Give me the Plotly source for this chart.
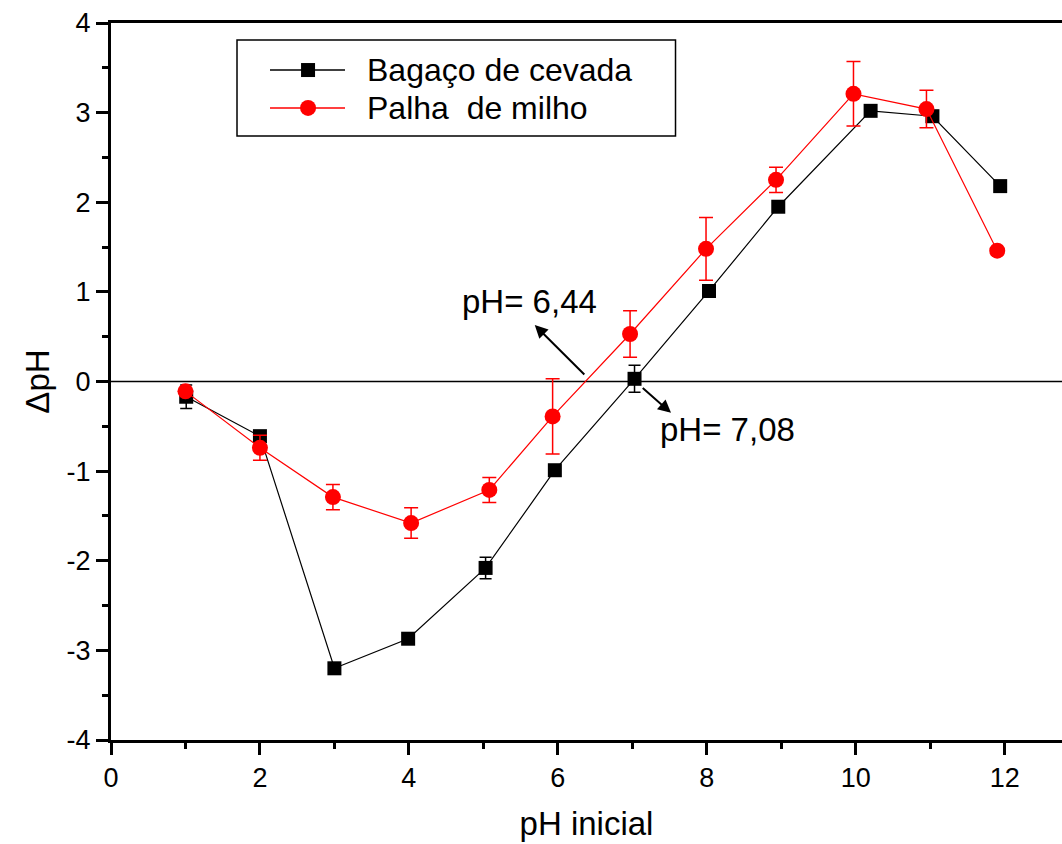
import plotly.graph_objects as go

# Bagaço de cevada (black squares)
x_bagaco = [1.01, 2.0, 3.0, 3.99, 5.03, 5.96, 7.03, 8.03, 8.96, 10.2, 11.03, 11.94]
y_bagaco = [-0.17, -0.61, -3.20, -2.87, -2.08, -0.99, 0.03, 1.01, 1.95, 3.02, 2.96, 2.18]
err_bagaco = [0.13, 0.04, 0.0, 0.0, 0.12, 0.0, 0.15, 0.0, 0.0, 0.0, 0.02, 0.0]

# Palha de milho (red circles)
x_palha = [1.0, 2.0, 2.98, 4.03, 5.08, 5.93, 6.97, 7.99, 8.93, 9.97, 10.95, 11.9]
y_palha = [-0.11, -0.74, -1.29, -1.58, -1.21, -0.39, 0.53, 1.48, 2.25, 3.21, 3.04, 1.46]
err_palha = [0.0, 0.14, 0.14, 0.17, 0.14, 0.42, 0.26, 0.35, 0.14, 0.36, 0.21, 0.0]

series_names = ["Bagaço de cevada", "Palha  de milho"]
series_colors = ["black", "#ff0000"]

x_ticks = [0, 2, 4, 6, 8, 10, 12]
y_ticks = [-4, -3, -2, -1, 0, 1, 2, 3, 4]

FONT = "Liberation Sans, Arial, sans-serif"

fig = go.Figure()

fig.add_trace(go.Scatter(
    x=x_bagaco, y=y_bagaco, mode="lines+markers", name=series_names[0],
    line=dict(color=series_colors[0], width=1.2),
    marker=dict(symbol="square", size=14, color=series_colors[0]),
    error_y=dict(type="data", array=err_bagaco, color=series_colors[0], thickness=1.5, width=6),
))
fig.add_trace(go.Scatter(
    x=x_palha, y=y_palha, mode="lines+markers", name=series_names[1],
    line=dict(color=series_colors[1], width=1.2),
    marker=dict(symbol="circle", size=16, color=series_colors[1]),
    error_y=dict(type="data", array=err_palha, color=series_colors[1], thickness=1.5, width=7),
))

# horizontal zero line
fig.add_shape(type="line", xref="x", yref="y", x0=0, x1=12.77, y0=0, y1=0,
              line=dict(color="black", width=1.5), layer="below")

# arrows
fig.add_annotation(x=5.69, y=0.63, ax=6.376, ay=0.061, xref="x", yref="y",
                   axref="x", ayref="y", text="", showarrow=True,
                   arrowhead=2, arrowsize=1.3, arrowwidth=2, arrowcolor="black")
fig.add_annotation(x=7.52, y=-0.35, ax=7.12, ay=-0.058, xref="x", yref="y",
                   axref="x", ayref="y", text="", showarrow=True,
                   arrowhead=2, arrowsize=1.3, arrowwidth=2, arrowcolor="black")
fig.add_annotation(x=5.62, y=0.89, xref="x", yref="y", text="pH= 6,44",
                   showarrow=False, font=dict(family=FONT, size=33, color="black"))
fig.add_annotation(x=8.28, y=-0.53, xref="x", yref="y", text="pH= 7,08",
                   showarrow=False, font=dict(family=FONT, size=33, color="black"))

# legend drawn in paper coordinates
fig.add_shape(type="rect", xref="paper", yref="paper", x0=0.1325, x1=0.5936,
              y0=0.8424, y1=0.9763, line=dict(color="black", width=1.5),
              fillcolor="white", layer="above")
legend_rows = [0.9344, 0.8815]
for i, (name, color) in enumerate(zip(series_names, series_colors)):
    yr = legend_rows[i]
    fig.add_shape(type="line", xref="paper", yref="paper", x0=0.1672, x1=0.2461,
                  y0=yr, y1=yr, line=dict(color=color, width=1.5), layer="above")
    if i == 0:
        fig.add_shape(type="rect", xref="paper", yref="paper", xsizemode="pixel",
                      ysizemode="pixel", xanchor=0.2072, yanchor=yr,
                      x0=-7, x1=7, y0=-7, y1=7, fillcolor=color,
                      line=dict(width=0), layer="above")
    else:
        fig.add_shape(type="circle", xref="paper", yref="paper", xsizemode="pixel",
                      ysizemode="pixel", xanchor=0.2072, yanchor=yr,
                      x0=-8, x1=8, y0=-8, y1=8, fillcolor=color,
                      line=dict(width=0), layer="above")
    fig.add_annotation(x=0.2671, y=yr, xref="paper", yref="paper", text=name,
                       xanchor="left", yanchor="middle", showarrow=False,
                       font=dict(family=FONT, size=32, color="black"))

fig.update_layout(
    width=1062, height=844,
    margin=dict(l=111, r=0, t=23, b=104),
    plot_bgcolor="white", paper_bgcolor="white",
    font=dict(family=FONT, color="black"),
    showlegend=False,
    xaxis=dict(range=[0, 12.77], tickvals=x_ticks, ticktext=[str(v) for v in x_ticks],
               ticks="outside", ticklen=12, tickwidth=2.5, tickcolor="black",
               showline=True, linecolor="black", linewidth=3, mirror=True,
               showgrid=False, zeroline=False,
               tickfont=dict(family=FONT, size=27, color="black"),
               title=dict(text="pH inicial", font=dict(family=FONT, size=33, color="black"), standoff=20),
               minor=dict(dtick=1, tick0=0, ticks="outside", ticklen=6, tickwidth=2.5, tickcolor="black", showgrid=False)),
    yaxis=dict(range=[-4, 4], tickvals=y_ticks, ticktext=[str(v) for v in y_ticks],
               ticks="outside", ticklen=12, tickwidth=2.5, tickcolor="black",
               showline=True, linecolor="black", linewidth=3,
               showgrid=False, zeroline=False,
               tickfont=dict(family=FONT, size=27, color="black"),
               title=dict(text="ΔpH", font=dict(family=FONT, size=33, color="black"), standoff=8),
               minor=dict(dtick=0.5, tick0=0, ticks="outside", ticklen=6, tickwidth=2.5, tickcolor="black", showgrid=False)),
)

fig.write_html("out.html")
